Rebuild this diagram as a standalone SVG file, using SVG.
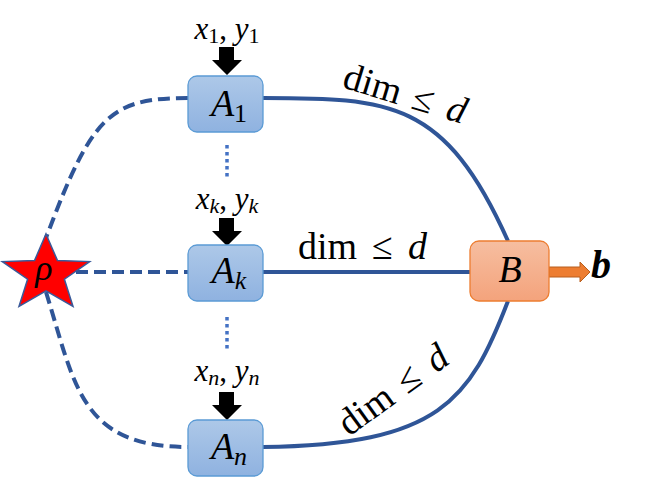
<svg xmlns="http://www.w3.org/2000/svg" width="650" height="477" viewBox="0 0 650 477">
<defs>
<linearGradient id="gA" x1="0" y1="0" x2="0" y2="1"><stop offset="0" stop-color="#adc8e8"/><stop offset="1" stop-color="#8fb2e0"/></linearGradient>
<linearGradient id="gB" x1="0" y1="0" x2="0" y2="1"><stop offset="0" stop-color="#f6bea0"/><stop offset="1" stop-color="#f4a37c"/></linearGradient>
<style>
.box{fill:url(#gA);stroke:#5b9bd5;stroke-width:1.3}
.boxB{fill:url(#gB);stroke:#ed7d31;stroke-width:1.3}
.solid{fill:none;stroke:#2f5597;stroke-width:4}
.dash{fill:none;stroke:#2f5597;stroke-width:4;stroke-dasharray:12 6}
.dot{fill:none;stroke:#4472c4;stroke-width:3.5;stroke-dasharray:3.5 3.5}
.m{font-family:"Liberation Serif","DejaVu Serif",serif;fill:#000}
.it{font-style:italic}
</style>
</defs>
<rect width="650" height="477" fill="#fff"/>
<g id="connectors">
<path class="dash" d="M188,98 C110,98 92,115 46,238"/>
<path class="dash" d="M76,272 L188,272"/>
<path class="dash" d="M46,292 C75,385 80,447 188,447"/>
<path class="solid" d="M263,98 C390,98 445,100 508,241"/>
<path class="solid" d="M263,272 L470,272"/>
<path class="solid" d="M508,301 C470,400 440,445 263,447"/>
<path class="dot" d="M227,145 L227,180"/>
<path class="dot" d="M227,317 L227,352"/>
<path d="M219,47 H234 V60 H242 L227,75 L212,60 H219 Z" fill="#000"/>
<path d="M219,218 H234 V231 H242 L227,246 L212,231 H219 Z" fill="#000"/>
<path d="M219,392 H234 V405 H242 L227,420 L212,405 H219 Z" fill="#000"/>
<path d="M549,267 H580 V262 L590,272 L580,282 V277 H549 Z" fill="#ed7d31" stroke="#b85f1e" stroke-width="1"/>
</g>
<g id="star">
<polygon points="46,234 57.4,260.4 89.7,261.6 64.4,279.2 73,306.4 46,290.8 19,306.4 27.6,279.2 2.3,261.6 34.6,260.4" fill="#ff0000" stroke="#3a5a9a" stroke-width="1.5"/>
<text class="m it" x="44" y="280" font-size="36" text-anchor="middle">ρ</text>
</g>
<g id="A1">
<rect class="box" x="188" y="76" width="75" height="56" rx="9"/>
<text class="m" x="229" y="116" font-size="38" text-anchor="middle"><tspan class="it">A</tspan><tspan font-size="26" dy="6">1</tspan></text>
</g>
<g id="Ak">
<rect class="box" x="188" y="245" width="75" height="56" rx="9"/>
<text class="m" x="229" y="283" font-size="38" text-anchor="middle"><tspan class="it">A</tspan><tspan class="it" font-size="26" dy="6">k</tspan></text>
</g>
<g id="An">
<rect class="box" x="188" y="420" width="75" height="56" rx="9"/>
<text class="m" x="229" y="459" font-size="38" text-anchor="middle"><tspan class="it">A</tspan><tspan class="it" font-size="26" dy="6">n</tspan></text>
</g>
<g id="B">
<rect class="boxB" x="470" y="241" width="79" height="60" rx="9"/>
<text class="m it" x="510" y="282" font-size="38" text-anchor="middle">B</text>
</g>
<g id="labels">
<text class="m" x="227" y="39" font-size="31" text-anchor="middle"><tspan class="it">x</tspan><tspan font-size="22" dy="4">1</tspan><tspan dy="-4">, </tspan><tspan class="it">y</tspan><tspan font-size="22" dy="4">1</tspan></text>
<text class="m" x="227" y="209" font-size="31" text-anchor="middle"><tspan class="it">x</tspan><tspan class="it" font-size="22" dy="4">k</tspan><tspan dy="-4">, </tspan><tspan class="it">y</tspan><tspan class="it" font-size="22" dy="4">k</tspan></text>
<text class="m" x="227" y="381" font-size="31" text-anchor="middle"><tspan class="it">x</tspan><tspan class="it" font-size="22" dy="4">n</tspan><tspan dy="-4">, </tspan><tspan class="it">y</tspan><tspan class="it" font-size="22" dy="4">n</tspan></text>
<text class="m" font-size="38" y="259"><tspan x="298">dim</tspan><tspan x="372">≤</tspan><tspan x="408" class="it">d</tspan></text>
<g transform="translate(341,87) rotate(17)"><text class="m" font-size="38" y="0"><tspan x="0">dim</tspan><tspan x="72">≤</tspan><tspan x="108" class="it">d</tspan></text></g>
<g transform="translate(349,437) rotate(-36)"><text class="m" font-size="38" y="0"><tspan x="0">dim</tspan><tspan x="72">≤</tspan><tspan x="108" class="it">d</tspan></text></g>
<text class="m it" x="591" y="278" font-size="40" font-weight="bold">b</text>
</g>
</svg>
